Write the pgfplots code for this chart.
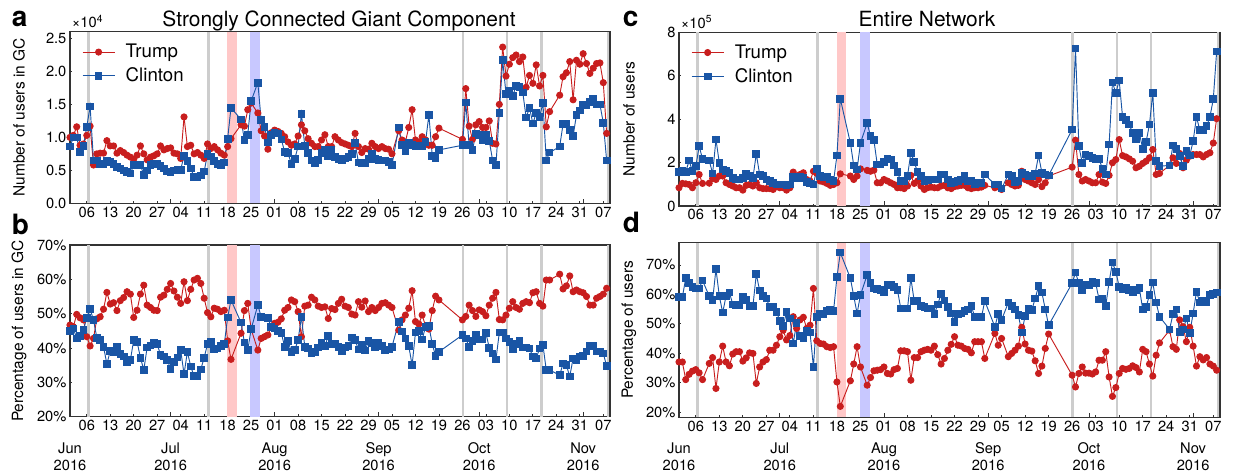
\documentclass[border=0pt]{standalone}
\usepackage{pgfplots}
\pgfplotsset{compat=1.18}
\usepackage{pgfplotstable}
\usepackage{fontspec}
\setmainfont{TeX Gyre Heros}
\definecolor{trump}{RGB}{200,30,30}
\definecolor{clinton}{RGB}{25,85,165}
\definecolor{bandgray}{RGB}{205,205,205}
\definecolor{bandpink}{RGB}{255,200,200}
\definecolor{bandblue}{RGB}{200,200,255}

\pgfplotstableread{
d t c
0 1.00 0.86
1 1.03 1.00
2 1.16 1.00
3 0.88 0.78
4 0.90 0.87
5 1.03 1.16
6 1.17 1.47
7 0.58 0.65
8 0.75 0.65
9 0.76 0.60
10 0.76 0.59
11 0.95 0.64
12 0.87 0.63
13 0.87 0.60
14 0.76 0.55
15 0.80 0.53
16 0.77 0.50
17 0.73 0.47
18 0.70 0.45
19 0.67 0.58
20 0.73 0.59
21 0.87 0.58
22 0.75 0.43
23 0.66 0.50
24 0.70 0.58
25 0.72 0.60
26 0.75 0.60
27 0.87 0.57
28 0.81 0.53
29 0.83 0.48
30 0.84 0.47
31 0.76 0.50
32 0.75 0.51
33 0.68 0.51
34 1.31 0.72
35 0.86 0.64
36 0.88 0.53
37 0.75 0.40
38 0.77 0.39
39 0.73 0.42
40 0.68 0.48
41 0.90 0.75
42 0.83 0.71
43 0.86 0.64
44 0.81 0.60
45 0.76 0.58
46 0.73 0.62
47 0.86 0.98
48 0.98 1.45
51 1.19 1.27
52 1.17 0.96
53 1.42 1.04
54 1.52 1.55
56 1.37 1.83
57 1.10 1.26
58 1.02 1.16
59 0.82 0.92
60 1.07 1.04
61 1.11 1.07
62 1.09 1.06
63 1.06 0.97
64 1.01 0.78
65 0.93 0.76
66 0.88 0.60
67 0.90 0.67
68 1.02 0.86
69 1.19 1.36
70 1.10 0.87
71 0.98 0.76
72 0.91 0.65
73 0.86 0.61
74 0.86 0.66
75 0.96 0.76
76 1.04 0.81
77 0.86 0.71
78 0.86 0.81
79 1.01 0.70
80 0.96 0.67
81 0.92 0.66
82 0.90 0.68
83 0.88 0.70
84 0.86 0.75
85 1.06 0.91
86 0.86 0.62
87 0.77 0.61
88 0.83 0.61
89 0.82 0.67
90 0.91 0.75
91 0.86 0.67
92 0.83 0.66
93 0.86 0.65
94 0.83 0.65
95 0.82 0.63
96 0.75 0.58
98 1.10 1.15
99 0.96 0.88
100 0.93 0.79
101 1.15 0.91
102 1.42 0.88
103 0.96 0.86
104 0.93 0.87
105 1.01 0.86
106 0.96 0.93
107 0.88 1.34
108 0.88 0.72
109 1.01 0.69
110 1.14 0.81
117 0.97 0.88
118 1.74 1.53
119 1.17 0.88
120 0.97 0.81
121 1.19 1.06
122 1.24 1.04
123 1.15 0.96
124 1.15 1.04
125 1.25 0.95
126 0.91 0.65
127 0.90 0.58
128 1.50 1.37
129 2.37 2.17
130 1.93 1.66
131 2.11 1.70
132 2.21 1.63
133 2.25 1.78
134 2.15 1.76
135 2.22 1.68
136 1.76 1.30
137 1.94 1.45
138 1.82 1.21
139 2.10 1.37
140 1.78 1.31
141 1.94 1.52
142 1.16 0.65
143 1.39 0.77
146 1.64 0.86
147 1.92 1.20
148 1.98 1.20
149 2.15 1.11
150 1.57 1.02
151 2.17 1.34
152 2.11 1.41
153 2.27 1.49
154 2.12 1.49
155 1.97 1.54
156 2.05 1.59
157 2.12 1.50
158 2.13 1.50
159 1.83 1.22
160 1.06 0.65
}\tabA

\pgfplotstableread{
d t c
0 46.7 45.0
1 46.2 45.7
2 49.8 42.8
3 48.8 43.5
4 48.2 45.2
5 43.3 48.8
6 40.6 51.3
7 42.8 48.2
8 48.5 43.0
9 49.1 42.3
10 51.3 40.4
11 56.2 35.3
12 52.8 39.2
13 53.2 38.9
14 50.9 40.4
15 53.8 38.3
16 54.7 37.5
17 56.4 36.0
18 55.7 36.5
19 48.9 42.3
20 51.0 41.8
21 55.7 37.2
22 58.3 33.6
23 52.5 40.2
24 51.8 40.7
25 51.0 41.4
26 50.9 41.1
27 54.8 38.0
28 55.4 37.5
29 57.1 36.5
30 58.8 33.9
31 56.6 36.0
32 54.8 37.3
33 53.0 39.4
34 59.3 32.4
35 53.8 38.9
36 57.1 34.6
37 59.8 31.8
38 60.3 31.8
39 58.8 33.8
40 54.5 37.2
41 50.3 41.1
42 49.1 41.8
43 51.6 39.6
44 51.3 39.9
45 50.6 40.6
46 51.0 41.2
47 42.1 48.9
48 36.7 54.0
51 44.3 47.4
52 50.9 41.6
53 53.0 39.4
54 45.5 45.5
56 39.4 52.5
57 42.8 49.1
58 43.3 48.9
59 43.8 48.8
60 46.0 46.2
61 47.2 45.7
62 47.5 45.0
63 48.5 44.3
64 51.0 40.4
65 51.8 42.1
66 54.0 38.9
67 53.5 39.4
68 50.6 42.3
69 43.3 49.1
70 52.2 40.4
71 52.5 39.9
72 54.8 38.4
73 54.0 38.9
74 52.2 40.2
75 51.8 41.4
76 52.0 40.6
77 48.6 43.5
78 51.5 41.1
79 51.2 41.2
80 53.0 40.4
81 54.2 39.1
82 52.2 40.2
83 51.8 40.6
84 49.9 43.1
85 49.6 42.3
86 53.5 39.6
87 51.9 40.9
88 53.7 39.3
89 50.6 42.0
90 51.8 41.4
91 50.9 40.2
92 51.8 41.6
93 53.0 40.6
94 53.2 39.4
95 52.5 39.6
96 51.8 40.4
98 45.2 47.5
99 48.2 44.8
100 49.6 42.8
101 51.6 40.6
102 56.7 35.0
103 47.7 44.5
104 47.0 45.0
105 49.6 42.5
106 46.4 46.2
107 45.5 46.4
108 50.9 41.2
109 55.1 37.7
110 54.0 38.9
117 48.2 43.8
118 49.2 42.8
119 52.5 40.4
120 50.9 42.1
121 49.2 43.8
122 51.1 42.5
123 50.6 42.5
124 49.4 44.3
125 52.5 40.1
126 54.5 38.4
127 56.2 36.7
128 48.3 44.5
129 48.2 44.5
130 49.6 42.8
131 51.6 41.8
132 53.5 39.6
133 51.8 41.2
134 51.3 42.1
135 53.0 40.2
136 53.5 40.2
137 53.2 39.9
138 56.1 37.5
139 56.4 37.0
140 53.0 39.9
141 52.2 40.9
142 59.8 33.6
143 59.8 33.6
146 61.5 32.1
147 57.2 35.5
148 58.1 35.0
149 61.0 31.7
150 56.4 37.0
151 56.9 36.5
152 56.4 37.5
153 56.1 37.7
154 55.0 39.0
155 52.5 40.6
156 52.5 40.6
157 54.5 39.0
158 55.0 39.0
159 55.7 38.4
160 57.4 34.8
}\tabB

\pgfplotstableread{
d t c
0 0.84 1.56
1 1.04 1.60
2 1.02 1.56
3 0.99 2.09
4 0.84 1.60
5 1.07 1.83
6 1.45 2.75
7 1.04 2.17
9 1.05 2.09
10 1.27 1.50
11 1.22 3.06
12 1.38 1.99
13 1.38 1.68
14 1.07 1.60
15 0.99 1.53
16 0.92 1.30
17 0.84 1.22
18 0.84 1.22
19 0.73 1.30
20 0.95 1.50
21 0.99 1.38
22 0.92 1.30
23 1.07 2.40
24 0.84 1.45
25 0.80 1.38
26 0.80 1.22
27 0.80 1.15
28 0.76 1.07
29 0.88 0.99
30 0.84 0.99
31 0.84 0.99
32 0.73 0.95
33 0.84 0.99
34 1.56 1.35
35 1.30 1.30
36 1.45 1.35
37 1.53 1.30
38 1.22 1.11
39 1.15 1.04
40 1.60 0.99
41 1.50 1.71
42 1.15 1.38
43 1.11 1.33
44 1.04 1.35
45 0.95 1.22
46 0.99 1.15
47 1.07 2.32
48 1.48 4.94
51 1.38 2.90
52 1.22 1.87
53 1.38 1.68
54 1.71 2.90
56 1.64 3.82
57 1.60 3.21
58 1.65 3.03
59 1.07 1.91
60 1.07 1.91
61 1.22 2.03
62 1.15 2.17
63 1.07 2.14
64 0.99 1.87
65 0.84 1.56
66 0.84 1.15
67 0.80 1.15
68 0.92 1.38
69 1.41 2.45
70 1.04 2.03
71 1.15 1.56
72 0.92 1.38
73 0.76 1.15
74 0.84 1.19
75 0.87 1.22
76 0.84 1.22
77 0.84 1.22
78 0.92 1.45
79 0.95 1.45
80 0.84 1.22
81 0.80 1.07
82 0.89 1.10
83 0.92 1.15
84 0.95 1.22
85 0.95 1.38
86 0.84 1.15
87 0.80 1.15
88 0.84 1.02
89 0.84 1.07
90 0.87 1.07
91 0.95 1.45
94 0.84 0.99
95 0.89 0.99
96 0.76 0.80
98 1.07 1.45
99 0.99 1.38
100 0.92 1.10
101 0.95 1.15
102 1.60 1.53
103 1.22 1.45
104 1.15 1.38
105 1.07 1.38
106 0.99 1.50
107 1.22 2.32
108 0.89 1.53
109 1.07 1.45
110 1.38 1.41
117 1.79 3.52
118 3.03 7.26
119 1.45 2.75
120 1.15 1.99
121 1.22 2.37
122 1.15 2.29
123 1.07 2.22
124 1.07 2.17
125 1.45 2.17
126 1.10 1.71
127 1.04 1.45
128 1.41 2.83
129 1.99 5.69
130 2.14 5.20
131 3.06 5.78
132 2.32 4.10
133 2.26 3.95
134 2.17 3.75
135 2.06 3.36
136 1.76 3.06
137 1.83 3.36
138 1.96 2.63
139 2.06 2.94
140 2.22 3.75
141 2.60 5.20
142 1.45 2.06
143 1.50 1.83
146 1.87 1.87
147 2.22 2.78
148 1.96 2.63
149 2.42 2.29
150 1.76 1.83
151 2.11 2.52
152 2.29 2.33
153 2.37 2.98
154 2.37 4.10
155 2.37 3.49
156 2.26 3.49
157 2.37 3.67
158 2.45 4.10
159 2.90 4.92
160 4.02 7.11
}\tabC

\pgfplotstableread{
d t c
0 37.0 59.0
1 37.0 59.0
2 31.0 65.5
3 32.8 63.8
4 33.9 62.6
5 34.4 62.0
6 33.3 62.0
7 31.0 64.7
9 36.5 59.4
10 38.5 58.0
11 28.0 68.6
12 37.0 59.4
13 42.4 53.8
14 37.0 59.4
15 35.7 60.6
16 39.7 56.6
17 40.5 56.4
18 40.5 56.4
19 37.3 59.0
20 38.4 58.0
21 40.1 56.0
22 39.9 56.0
23 29.7 66.9
24 35.3 61.3
25 37.0 59.4
26 37.8 58.6
27 41.0 55.6
28 41.0 55.6
29 42.7 54.1
30 45.6 51.0
31 47.8 49.2
32 44.5 54.0
33 46.0 51.8
34 52.4 43.3
35 48.4 50.3
36 51.3 45.8
37 52.2 45.0
38 48.4 47.5
39 49.5 47.0
40 62.0 35.3
41 44.2 52.2
42 43.3 53.5
43 43.1 53.3
44 42.2 54.4
45 41.9 54.6
46 42.2 54.4
47 30.2 65.8
48 21.9 74.2
51 30.6 65.5
52 36.3 59.4
53 42.2 53.5
54 35.3 59.8
56 29.1 66.6
57 31.7 63.8
58 34.0 62.0
59 34.2 61.8
60 34.4 61.4
61 35.3 60.6
62 33.1 63.2
63 32.9 63.4
64 34.4 62.6
65 34.8 61.5
66 40.8 55.2
67 40.8 55.2
68 40.5 55.2
69 30.8 65.5
70 38.5 57.7
71 38.5 57.7
72 40.5 56.0
73 41.0 55.6
74 41.3 55.2
75 41.0 55.2
76 42.4 53.3
77 39.5 56.6
78 36.3 60.1
79 38.2 57.9
80 41.0 55.6
81 43.0 53.5
82 45.6 50.7
83 42.7 53.3
84 42.4 53.5
85 41.6 54.4
86 41.3 54.9
87 40.1 56.0
88 43.9 52.4
89 43.9 52.2
90 43.9 52.2
91 38.2 57.7
94 46.7 49.0
95 42.7 53.3
96 45.0 51.3
98 38.8 57.2
99 39.9 56.0
100 41.0 54.9
101 42.4 53.0
102 48.8 47.0
103 43.1 52.6
104 41.0 55.2
105 40.7 54.7
106 37.4 58.6
107 33.1 62.8
108 35.6 60.6
109 41.6 54.9
110 46.5 49.5
117 32.5 63.8
118 28.5 67.4
119 33.1 63.8
120 35.3 61.3
121 33.2 63.2
122 33.2 63.2
123 32.9 64.3
124 33.6 63.8
125 37.6 58.3
126 37.6 58.6
127 40.5 56.0
128 31.9 64.3
129 25.3 70.8
130 28.3 67.7
131 33.1 62.6
132 34.8 61.8
133 34.5 62.1
134 34.8 61.5
135 35.7 60.6
136 35.1 61.5
137 33.6 62.1
138 41.3 54.9
139 40.5 55.6
140 36.3 59.8
141 32.2 64.0
142 39.3 57.2
143 43.5 52.4
146 47.8 48.1
147 42.2 53.3
148 41.3 54.9
149 51.3 47.3
150 49.0 48.0
151 43.9 51.8
152 48.8 46.9
153 42.4 53.5
154 35.6 60.9
155 38.8 57.2
156 37.7 57.8
157 38.5 57.2
158 36.3 59.8
159 35.6 60.1
160 34.2 60.6
}\tabD

\newcommand\bands[2]{%
  \fill[bandgray] (5.1,#1) rectangle (5.9,#2);
  \fill[bandgray] (40.9,#1) rectangle (41.7,#2);
  \fill[bandpink] (46.9,#1) rectangle (49.8,#2);
  \fill[bandblue] (53.8,#1) rectangle (56.7,#2);
  \fill[bandgray] (116.8,#1) rectangle (117.6,#2);
  \fill[bandgray] (129.9,#1) rectangle (130.7,#2);
  \fill[bandgray] (140.1,#1) rectangle (140.9,#2);
  \fill[bandgray] (160.0,#1) rectangle (160.8,#2);
}

\pgfplotsset{
  base/.style={
    scale only axis,
    xmin=0, xmax=161,
    clip=false,
    axis line style={line width=0.8pt, black!80},
    tick pos=left, tick align=inside,
    xtick={5,12,...,159},
    xticklabels={06,13,20,27,04,11,18,25,01,08,15,22,29,05,12,19,26,03,10,17,24,31,07},
    major tick length=1.8pt,
    tick style={black!80, line width=0.6pt},
    extra x ticks={0,30,61,92,122,153},
    ticklabel style={font=\fontsize{11}{12}\selectfont},
    xticklabel style={inner sep=2.5pt},
    yticklabel style={inner sep=2.5pt},
  },
  nomonth/.style={
    extra x tick labels={,,,,,},
    extra x tick style={major tick length=3.5pt},
  },
  month/.style={
    extra x tick labels={{Jun\\2016},{Jul\\2016},{Aug\\2016},{Sep\\2016},{Oct\\2016},{Nov\\2016}},
    extra x tick style={major tick length=3.5pt,
      tick label style={align=center, yshift=-16.5pt, font=\fontsize{11}{12.75}\selectfont}},
  },
  leg/.style={
    legend style={at={(0.022,0.945)}, anchor=north west, draw=none, fill=none,
      font=\fontsize{14}{15}\selectfont, row sep=2pt, inner sep=0pt,
      /tikz/every odd column/.append style={column sep=6pt}},
    legend cell align=left,
    legend image code/.code={\draw[mark repeat=2,mark phase=2,##1] plot coordinates {(0pt,0pt) (12pt,0pt) (24pt,0pt)};},
  },
  tr/.style={trump, line width=0.7pt, mark=*, mark size=2.3pt, mark options={solid}},
  cl/.style={clinton, line width=0.7pt, mark=square*, mark size=2.5pt, mark options={solid}},
}

\begin{document}
\begin{tikzpicture}
\useasboundingbox (0,0) rectangle (924.75pt,354.75pt);

% Panel a
\begin{axis}[base, nomonth, leg, at={(52.5pt,202.3pt)}, anchor=south west,
  width=405pt, height=128.5pt, ymin=0, ymax=2.6,
  ytick={0,0.5,1,1.5,2,2.5}, yticklabels={0.0,0.5,1.0,1.5,2.0,2.5}]
  \bands{0}{2.6}
  \addplot[tr] table[x=d,y=t]{\tabA};
  \addplot[cl] table[x=d,y=c]{\tabA};
  \legend{Trump,Clinton}
  \node[anchor=base west, inner sep=0pt, font=\fontsize{11}{12}\selectfont] at (rel axis cs:0.003,1) [yshift=3pt] {×10\textsuperscript{4}};
\end{axis}

% Panel b
\begin{axis}[base, month, at={(52.5pt,42.2pt)}, anchor=south west,
  width=405pt, height=128.8pt, ymin=20, ymax=70,
  ytick={20,30,40,50,60,70}, yticklabels={20\%,30\%,40\%,50\%,60\%,70\%}]
  \bands{20}{70}
  \addplot[tr] table[x=d,y=t]{\tabB};
  \addplot[cl] table[x=d,y=c]{\tabB};
\end{axis}

% Panel c
\begin{axis}[base, nomonth, leg, at={(509.25pt,200.25pt)}, anchor=south west,
  width=405.75pt, height=130.3pt, ymin=0, ymax=8,
  ytick={0,2,4,6,8}, yticklabels={0,2,4,6,8}]
  \bands{0}{8}
  \addplot[tr] table[x=d,y=t]{\tabC};
  \addplot[cl] table[x=d,y=c]{\tabC};
  \legend{Trump,Clinton}
  \node[anchor=base west, inner sep=0pt, font=\fontsize{11}{12}\selectfont] at (rel axis cs:0.003,1) [yshift=3pt] {×10\textsuperscript{5}};
\end{axis}

% Panel d
\begin{axis}[base, month, at={(509.25pt,41.8pt)}, anchor=south west,
  width=405.75pt, height=131pt, ymin=18.2, ymax=77.6,
  ytick={20,30,40,50,60,70}, yticklabels={20\%,30\%,40\%,50\%,60\%,70\%}]
  \bands{18.2}{77.6}
  \addplot[tr] table[x=d,y=t]{\tabD};
  \addplot[cl] table[x=d,y=c]{\tabD};
\end{axis}

% titles, labels, panel letters
\node[anchor=base, font=\fontsize{15.7}{17}\selectfont] at (254.25pt,334.5pt) {Strongly Connected Giant Component};
\node[anchor=base, font=\fontsize{15.7}{17}\selectfont] at (695.25pt,334.5pt) {Entire Network};
\node[anchor=base west, inner sep=0pt, font=\bfseries\fontsize{21}{22}\selectfont] at (8.8pt,334.5pt) {a};
\node[anchor=base west, inner sep=0pt, font=\bfseries\fontsize{21}{22}\selectfont] at (8.8pt,178.5pt) {b};
\node[anchor=base west, inner sep=0pt, font=\bfseries\fontsize{21}{22}\selectfont] at (467pt,334.5pt) {c};
\node[anchor=base west, inner sep=0pt, font=\bfseries\fontsize{21}{22}\selectfont] at (467pt,180pt) {d};
\node[rotate=90, font=\fontsize{11.6}{13}\selectfont] at (14.25pt,266.6pt) {Number of users in GC};
\node[rotate=90, font=\fontsize{11.6}{13}\selectfont] at (14.25pt,106.5pt) {Percentage of users in GC};
\node[rotate=90, font=\fontsize{11.6}{13}\selectfont] at (471.75pt,265.5pt) {Number of users};
\node[rotate=90, font=\fontsize{11.6}{13}\selectfont] at (471.75pt,107.25pt) {Percentage of users};
\end{tikzpicture}
\end{document}
